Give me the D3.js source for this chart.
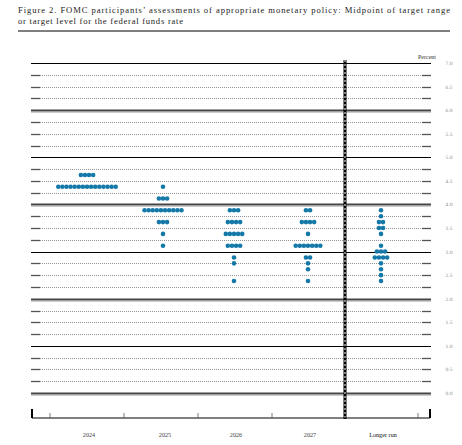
<!DOCTYPE html>
<html><head><meta charset="utf-8">
<script src="https://cdn.jsdelivr.net/npm/d3@7"></script>
<style>body{margin:0;background:#fff}</style>
</head><body>
<svg id="c" width="462" height="445"></svg>
<script>
var categories = ['2024', '2025', '2026', '2027', 'Longer run'];
// [rate, number of participants] per column
var dots2024 = [[4.625, 4], [4.375, 15]];
var dots2025 = [[4.375, 1], [4.125, 3], [3.875, 10], [3.625, 3], [3.375, 1], [3.125, 1]];
var dots2026 = [[3.875, 3], [3.625, 4], [3.375, 5], [3.125, 4], [2.875, 1], [2.75, 1], [2.375, 1]];
var dots2027 = [[3.875, 2], [3.625, 4], [3.375, 1], [3.125, 7], [2.875, 2], [2.75, 1], [2.625, 1], [2.375, 1]];
var dotsLonger = [[3.875, 1], [3.75, 1], [3.625, 2], [3.5, 2], [3.375, 1], [3.125, 1], [3.0, 3],
  [2.875, 4], [2.75, 1], [2.625, 1], [2.5, 1], [2.375, 1]];
var tickLabels = ['0.0', '0.5', '1.0', '1.5', '2.0', '2.5', '3.0', '3.5', '4.0', '4.5', '5.0', '5.5', '6.0', '6.5', '7.0'];

var svg = d3.select('#c');
var left = 31, right = 431;
var y = d3.scaleLinear().domain([0, 7]).range([393, 63]);
var xc = {'2024': 87, '2025': 163, '2026': 234, '2027': 308, 'Longer run': 381};

svg.append('text').attr('x', 18).attr('y', 13).attr('font-family', 'Liberation Serif').attr('font-size', 8.6)
  .attr('textLength', 432).attr('fill', '#222')
  .text('Figure 2.  FOMC participants\u2019 assessments of appropriate monetary policy:  Midpoint of target range');
svg.append('text').attr('x', 18).attr('y', 24).attr('font-family', 'Liberation Serif').attr('font-size', 8.6)
  .attr('textLength', 165).attr('fill', '#222')
  .text('or target level for the federal funds rate');
svg.append('line').attr('x1', 18).attr('x2', 450).attr('y1', 31).attr('y2', 31).attr('stroke', '#000').attr('stroke-width', 1);

// grid lines every 0.25
var g = svg.append('g');
d3.range(0, 7.01, 0.25).forEach(function(v) {
  var yy = Math.round(y(v)) + 0.5;
  if (v % 1 === 0) {
    var even = (v % 2 === 0);
    g.append('line').attr('x1', left).attr('x2', right).attr('y1', yy).attr('y2', yy)
      .attr('stroke', even ? '#444' : '#000').attr('stroke-width', even ? 2 : 1.2);
    if (even) g.append('line').attr('x1', left).attr('x2', right).attr('y1', yy + 2).attr('y2', yy + 2)
      .attr('stroke', '#ccc').attr('stroke-width', 1);
  } else {
    g.append('line').attr('x1', left + 9).attr('x2', right - 9).attr('y1', yy).attr('y2', yy)
      .attr('stroke', '#666').attr('stroke-width', 0.7).attr('stroke-dasharray', '1,1');
    [[left, left + 9], [right - 9, right]].forEach(function(s) {
      g.append('line').attr('x1', s[0]).attr('x2', s[1]).attr('y1', yy).attr('y2', yy)
        .attr('stroke', '#555').attr('stroke-width', 1.3);
    });
  }
});

tickLabels.forEach(function(t) {
  svg.append('text').attr('x', 449).attr('y', y(+t) + 2).attr('text-anchor', 'middle')
    .attr('font-family', 'DejaVu Serif').attr('font-size', 4.5).attr('fill', '#888').text(t);
});
svg.append('text').attr('x', 436).attr('y', 59).attr('text-anchor', 'end')
  .attr('font-family', 'Liberation Serif').attr('font-size', 6).attr('fill', '#333').text('Percent');

// vertical separator
svg.append('line').attr('x1', 345).attr('x2', 345).attr('y1', 60).attr('y2', 419)
  .attr('stroke', '#000').attr('stroke-width', 3);
svg.append('line').attr('x1', 345).attr('x2', 345).attr('y1', 60).attr('y2', 419)
  .attr('stroke', '#fff').attr('stroke-width', 1).attr('stroke-dasharray', '2,2');

// bottom axis
var ax = 418;
svg.append('line').attr('x1', 32).attr('x2', 430).attr('y1', ax).attr('y2', ax).attr('stroke', '#000').attr('stroke-width', 1);
[32, 430].forEach(function(px) {
  svg.append('line').attr('x1', px).attr('x2', px).attr('y1', ax - 9).attr('y2', ax).attr('stroke', '#000').attr('stroke-width', 2);
});
[50, 124, 198, 272, 418].forEach(function(px) {
  svg.append('line').attr('x1', px).attr('x2', px).attr('y1', ax - 5).attr('y2', ax).attr('stroke', '#555').attr('stroke-width', 0.8);
});
categories.forEach(function(c) {
  svg.append('text').attr('x', xc[c] + 2).attr('y', 437).attr('text-anchor', 'middle')
    .attr('font-family', 'Liberation Serif').attr('font-size', 6.2).attr('fill', c === 'Longer run' ? '#111' : '#444').text(c);
});

// dots
var cols = [dots2024, dots2025, dots2026, dots2027, dotsLonger];
var pts = [];
cols.forEach(function(rows, i) {
  var cx = xc[categories[i]];
  rows.forEach(function(r) {
    for (var k = 0; k < r[1]; k++) pts.push({x: cx + (k - (r[1] - 1) / 2) * 4.1, v: r[0]});
  });
});
svg.append('g').selectAll('circle').data(pts).enter().append('circle')
  .attr('cx', function(d) { return d.x; })
  .attr('cy', function(d) { return y(d.v); })
  .attr('r', 2.3)
  .attr('fill', '#1479a8');
</script>
</body></html>
